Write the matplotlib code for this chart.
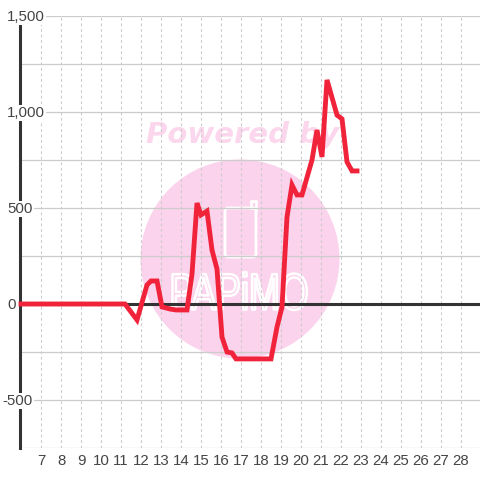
import matplotlib
matplotlib.use("Agg")
import matplotlib.pyplot as plt
import matplotlib.patheffects as pe
from matplotlib.patches import Circle, FancyBboxPatch
from matplotlib.transforms import Affine2D, ScaledTranslation

plt.rcParams['font.family'] = ['Liberation Sans', 'DejaVu Sans']

# chart values
days = [6, 11.2, 11.8, 12.3, 12.5, 12.8, 13.05, 13.45, 13.75, 14.3, 14.55, 14.8, 15.0, 15.3,
        15.55, 15.8, 16.05, 16.3, 16.55, 16.75, 18.5, 18.8, 19.05, 19.3, 19.55, 19.8, 20.05,
        20.55, 20.8, 21.05, 21.3, 21.8, 22.05, 22.3, 22.55, 22.8]
values = [0, 0, -83, 99, 120, 120, -15, -26, -31, -31, 156, 526, 464, 484,
          281, 182, -172, -250, -255, -286, -286, -120, -16, 453, 620, 568, 568,
          750, 906, 766, 1167, 984, 964, 740, 693, 693]
x_ticks = list(range(7, 29))
y_labels = [1500, 1000, 500, 0, -500]
y_grid = [1500, 1250, 1000, 750, 500, 250, -250, -500, -750]

W = 480


class SqueezeX(pe.AbstractPathEffect):
    # no condensed font here, so narrow the glyphs around a centre
    def __init__(self, cx, sx):
        super().__init__()
        self.cx = cx
        self.sx = sx

    def draw_path(self, renderer, gc, tpath, affine, rgbFace=None):
        squeeze = Affine2D().translate(-self.cx, 0).scale(self.sx, 1).translate(self.cx, 0)
        gc0 = renderer.new_gc()
        gc0.copy_properties(gc)
        gc0.set_linewidth(1.8)
        gc0.set_foreground('white')
        renderer.draw_path(gc0, tpath, affine + squeeze, rgbFace)
        gc0.restore()


fig = plt.figure(figsize=(4.8, 4.8), dpi=100, facecolor='white')

# watermark goes under the chart, in pixel coordinates
bg = fig.add_axes([0, 0, 1, 1], zorder=0)
bg.set_xlim(0, W)
bg.set_ylim(W, 0)
bg.axis('off')
pink = '#fbd3ec'
bg.add_patch(Circle((240, 259), 99.5, facecolor=pink, edgecolor='none'))
bg.text(242, 135, 'Powered by', color='#fbd6ec', fontsize=21, family='DejaVu Sans',
        weight='bold', style='oblique', ha='center', va='center')
bg.add_patch(FancyBboxPatch((226, 209), 29, 47, boxstyle='round,pad=1,rounding_size=3',
                            facecolor='none', edgecolor='white', lw=2))
bg.plot([251, 251, 256, 256], [208, 201, 201, 210], color='white', lw=2)
bg.text(239, 296, 'PAPiMO', color=pink, fontsize=37, family='Liberation Sans',
        ha='center', va='center', path_effects=[SqueezeX(239, 0.72)])

ax = fig.add_axes([20 / W, 1 - 448 / W, 460 / W, 432 / W], zorder=1)
ax.patch.set_visible(False)
ax.set_xlim(5.95, 28.95)
ax.set_ylim(-750, 1500)

for s in ['top', 'right', 'bottom']:
    ax.spines[s].set_visible(False)
ax.spines['left'].set_color('#333333')
ax.spines['left'].set_linewidth(2.2)
ax.spines['left'].set_zorder(3)

for v in y_grid:
    ax.axhline(v, color='#cccccc', lw=0.9, zorder=1)
for d in x_ticks:
    ax.axvline(d, color='#cccccc', lw=0.8, ls=(0, (2.5, 2.5)), zorder=1)
ax.axhline(0, color='#333333', lw=2.2, zorder=2)

ax.plot(days, values, color='#f0233b', lw=3.5, zorder=4, clip_on=False,
        solid_joinstyle='miter', solid_capstyle='projecting')

ax.set_xticks(x_ticks)
ax.set_xticklabels([str(d) for d in x_ticks])
ax.tick_params(axis='x', length=0, pad=4, labelsize=10.8, labelcolor='#444444')
ax.set_yticks([])

# y labels sit over the axis with a white box, so they cut it
for v in y_labels:
    txt = f'{v:,}'
    px = -13 if v >= 0 else -18
    shift = ScaledTranslation(px / 100, -1 / 100, fig.dpi_scale_trans)
    ax.text(0, v, txt, transform=ax.get_yaxis_transform() + shift,
            fontsize=10.8, color='#444444', ha='left', va='center', zorder=6, clip_on=False,
            bbox=dict(facecolor='white', edgecolor='none', pad=1.0) if v != 0 else None)

fig.savefig('out.png', dpi=100)
